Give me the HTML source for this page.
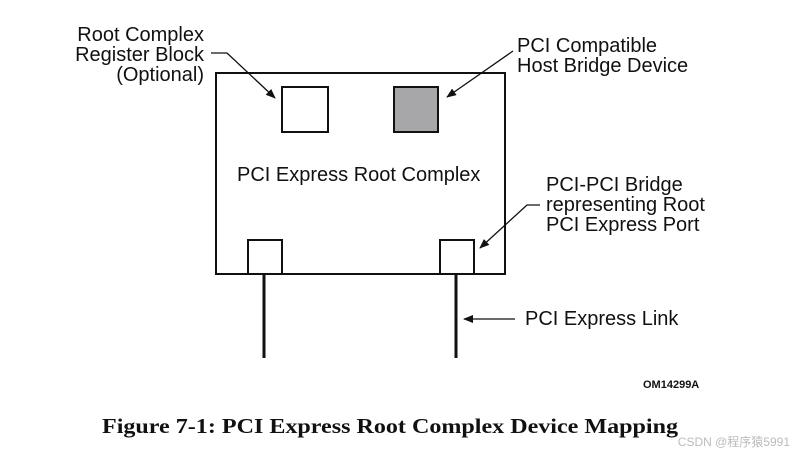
<!DOCTYPE html>
<html><head><style>
body{margin:0;background:#fff;}
svg{display:block}
</style></head><body>
<svg width="806" height="458" viewBox="0 0 806 458" xmlns="http://www.w3.org/2000/svg">
<defs><marker id="a" markerWidth="10" markerHeight="8" refX="9" refY="4" orient="auto" markerUnits="userSpaceOnUse"><path d="M0,0 L10,4 L0,8 z" fill="#111"/></marker></defs>
<g fill="none" stroke="#111">
<rect x="216" y="73" width="289" height="201" stroke-width="2"/>
<rect x="282" y="87" width="46" height="45" stroke-width="2"/>
<rect x="394" y="87" width="44" height="45" stroke-width="2" fill="#a7a7a9"/>
<rect x="248" y="240" width="34" height="34" stroke-width="2"/>
<rect x="440" y="240" width="34" height="34" stroke-width="2"/>
<line x1="264" y1="275" x2="264" y2="358" stroke-width="3"/>
<line x1="456" y1="275" x2="456" y2="358" stroke-width="3"/>
<line x1="515" y1="319" x2="464" y2="319" stroke-width="1.3" marker-end="url(#a)"/>
<polyline points="211,53 227,53 275,98" stroke-width="1.3" marker-end="url(#a)"/>
<line x1="513" y1="51" x2="447" y2="97" stroke-width="1.3" marker-end="url(#a)"/>
<polyline points="540,205 527,205 480,248" stroke-width="1.3" marker-end="url(#a)"/>
</g>
<g font-family="Liberation Sans, sans-serif" font-size="20" fill="#111">
<text x="204" y="41" text-anchor="end">Root Complex</text>
<text x="204" y="61" text-anchor="end">Register Block</text>
<text x="204" y="81" text-anchor="end">(Optional)</text>
<text x="517" y="52">PCI Compatible</text>
<text x="517" y="72">Host Bridge Device</text>
<text x="237" y="181">PCI Express Root Complex</text>
<text x="546" y="191">PCI-PCI Bridge</text>
<text x="546" y="211">representing Root</text>
<text x="546" y="231">PCI Express Port</text>
<text x="525" y="325">PCI Express Link</text>
<text x="643" y="388" font-size="11" font-weight="bold">OM14299A</text>
</g>
<text x="102" y="433" font-family="Liberation Serif, serif" font-size="21" font-weight="bold" fill="#111" textLength="576" lengthAdjust="spacingAndGlyphs">Figure 7-1:  PCI Express Root Complex Device Mapping</text>
<text x="790" y="446" text-anchor="end" font-family="Liberation Sans, 'Noto Sans CJK SC', sans-serif" font-size="12" fill="#bbb">CSDN @程序猿5991</text>
</svg>
</body></html>
